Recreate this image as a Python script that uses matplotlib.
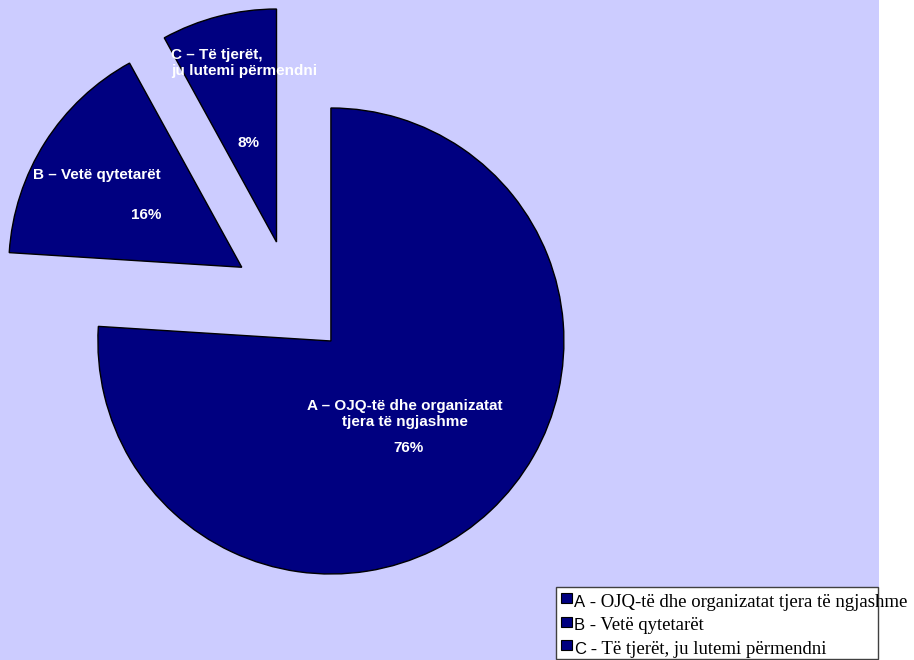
import matplotlib
matplotlib.use("Agg")
import matplotlib.pyplot as plt
from matplotlib.patches import Rectangle

# survey answers, share of respondents (%)
shares = [76, 16, 8]
slice_labels = [
    "A – OJQ-të dhe organizatat\ntjera të ngjashme",
    "B – Vetë qytetarët",
    "C – Të tjerët,\nju lutemi përmendni",
]
legend_letters = ["A", "B", "C"]
legend_texts = [
    " - OJQ-të dhe organizatat tjera të ngjashme",
    " - Vetë qytetarët",
    " - Të tjerët, ju lutemi përmendni",
]

W, H = 914, 660
BG = "#CCCCFF"
NAVY = "#000080"
SANS = "Liberation Sans"
SERIF = "Liberation Serif"

fig = plt.figure(figsize=(W / 100, H / 100), dpi=100)
fig.patch.set_facecolor("white")


def fx(x):
    return x / W


def fy(y):
    return 1 - y / H


# plot area background
fig.add_artist(Rectangle((0, 0), fx(879), 1, transform=fig.transFigure,
                         facecolor=BG, edgecolor="none", zorder=0))

ax = fig.add_axes([0, 0, fx(879), 1])
ax.set_facecolor("none")

radius = 233
center = (291, H - 298.5)
ax.pie(shares, startangle=90, counterclock=False, radius=radius, center=center,
       explode=[58.3] * len(shares), colors=[NAVY] * len(shares),
       wedgeprops=dict(edgecolor="black", linewidth=1.0))
ax.set_xlim(0, 879)
ax.set_ylim(0, H)
ax.axis("off")

lab = dict(color="white", fontsize=11, fontweight="bold", family=SANS)
# A
ax.text(405, H - 414, slice_labels[0], ha="center", va="center",
        multialignment="center", linespacing=1.15, **lab)
ax.text(408, H - 448, f"{shares[0]}%", ha="center", va="center", **lab)
# B
ax.text(161, H - 175, slice_labels[1], ha="right", va="center", **lab)
ax.text(161, H - 215, f"{shares[1]}%", ha="right", va="center", **lab)
# C
ax.text(171, H - 63, slice_labels[2], ha="left", va="center",
        multialignment="left", linespacing=1.15, **lab)
ax.text(248, H - 143, f"{shares[2]}%", ha="center", va="center", **lab)

# legend box
fig.add_artist(Rectangle((fx(556), fy(659)), fx(878) - fx(556), fy(587) - fy(659),
                         transform=fig.transFigure, facecolor="white",
                         edgecolor="#404040", linewidth=1.0, zorder=3))
renderer = fig.canvas.get_renderer()
baselines = [607, 630.5, 654]
for letter, text, yb in zip(legend_letters, legend_texts, baselines):
    fig.add_artist(Rectangle((fx(561), fy(yb - 4)), fx(11), 10 / H,
                             transform=fig.transFigure, facecolor=NAVY,
                             edgecolor="black", linewidth=0.8, zorder=4))
    t = fig.text(fx(574), fy(yb), letter, ha="left", va="baseline",
                 fontsize=12, family=SANS, color="black", zorder=5)
    x_end = t.get_window_extent(renderer).x1
    fig.text(x_end / W, fy(yb), text, ha="left", va="baseline",
             fontsize=13.5, family=SERIF, color="black", zorder=5)

fig.savefig("out.png", dpi=100, facecolor=fig.get_facecolor())
